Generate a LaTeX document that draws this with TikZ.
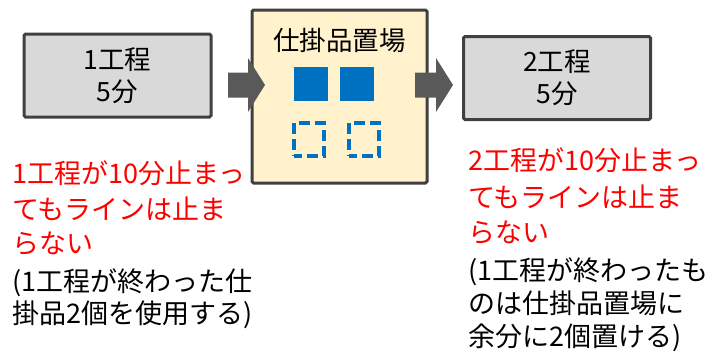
\documentclass[tikz,border=0pt]{standalone}
\usepackage{fontspec}
\setmainfont{Noto Sans CJK JP}
\definecolor{boxgray}{HTML}{D9D9D9}
\definecolor{boxline}{HTML}{404040}
\definecolor{wipfill}{HTML}{FFF2CC}
\definecolor{wipblue}{HTML}{0070C0}
\definecolor{arrowgray}{HTML}{595959}
\definecolor{notered}{HTML}{FF0000}
\begin{document}
\begin{tikzpicture}[x=1pt,y=-1pt,
  procbox/.style={draw=boxline, line width=3pt, fill=boxgray, rounded corners=1.5pt,
    minimum width=187pt, minimum height=83pt, align=center, inner sep=0pt,
    font=\fontsize{26.5}{32}\selectfont},
  wipbox/.style={draw=boxline, line width=3pt, fill=wipfill, rounded corners=1.5pt,
    minimum width=175pt, minimum height=173pt, inner sep=0pt},
  titletext/.style={font=\fontsize{26.5}{30}\selectfont, inner sep=0pt},
  fullpart/.style={fill=wipblue, draw=none, minimum size=34pt, inner sep=0pt},
  emptypart/.style={draw=wipblue, line width=3.5pt, dash pattern=on 11pt off 5pt,
    dash phase=3pt, minimum width=30pt, minimum height=33pt, inner sep=0pt},
  blockarrow/.style={fill=arrowgray, draw=none},
  noteline/.style={anchor=base west, inner sep=0pt, font=\fontsize{27}{30}\selectfont},
  rednote/.style={noteline, text=notered},
  blacknote/.style={noteline, text=black}
]
\useasboundingbox (0,0) rectangle (725,351);

% boxes
\node[procbox] (p1) at (117.5,75.5) {1工程\\5分};
\node[wipbox] (wip) at (339.5,96.5) {};
\node[procbox] (p2) at (557,78) {2工程\\5分};
\node[titletext] (wiptitle) at (339.5,40) {仕掛品置場};

% parts
\node[fullpart] (f1) at (311,84) {};
\node[fullpart] (f2) at (357,84) {};
\node[emptypart] (e1) at (309,139.5) {};
\node[emptypart] (e2) at (364,139.5) {};

% block arrows
\coordinate (a1tail) at (228,85);
\coordinate (a2tail) at (415,85);
\fill[blockarrow] (a1tail) ++(0,-12.5) -- ++(20,0) -- ++(0,-14.5) -- ++(17,27) -- ++(-17,27) -- ++(0,-14.5) -- ++(-20,0) -- cycle;
\fill[blockarrow] (a2tail) ++(0,-12.5) -- ++(21,0) -- ++(0,-14.5) -- ++(17,27) -- ++(-17,27) -- ++(0,-14.5) -- ++(-21,0) -- cycle;

% left notes
\node[rednote] (l1) at (12,183) {1工程が10分止まっ};
\node[rednote] (l2) at (12,219.5) {てもラインは止ま};
\node[rednote] (l3) at (12,253) {らない};
\node[blacknote] (l4) at (12,291.5) {(1工程が終わった仕};
\node[blacknote] (l5) at (12,323) {掛品2個を使用する)};

% right notes
\node[rednote] (r1) at (468,170) {2工程が10分止まっ};
\node[rednote] (r2) at (468,207) {てもラインは止ま};
\node[rednote] (r3) at (468,242) {らない};
\node[blacknote] (r4) at (468,280) {(1工程が終わったも};
\node[blacknote] (r5) at (468,313) {のは仕掛品置場に};
\node[blacknote] (r6) at (468,346.5) {余分に2個置ける)};
\end{tikzpicture}
\end{document}
